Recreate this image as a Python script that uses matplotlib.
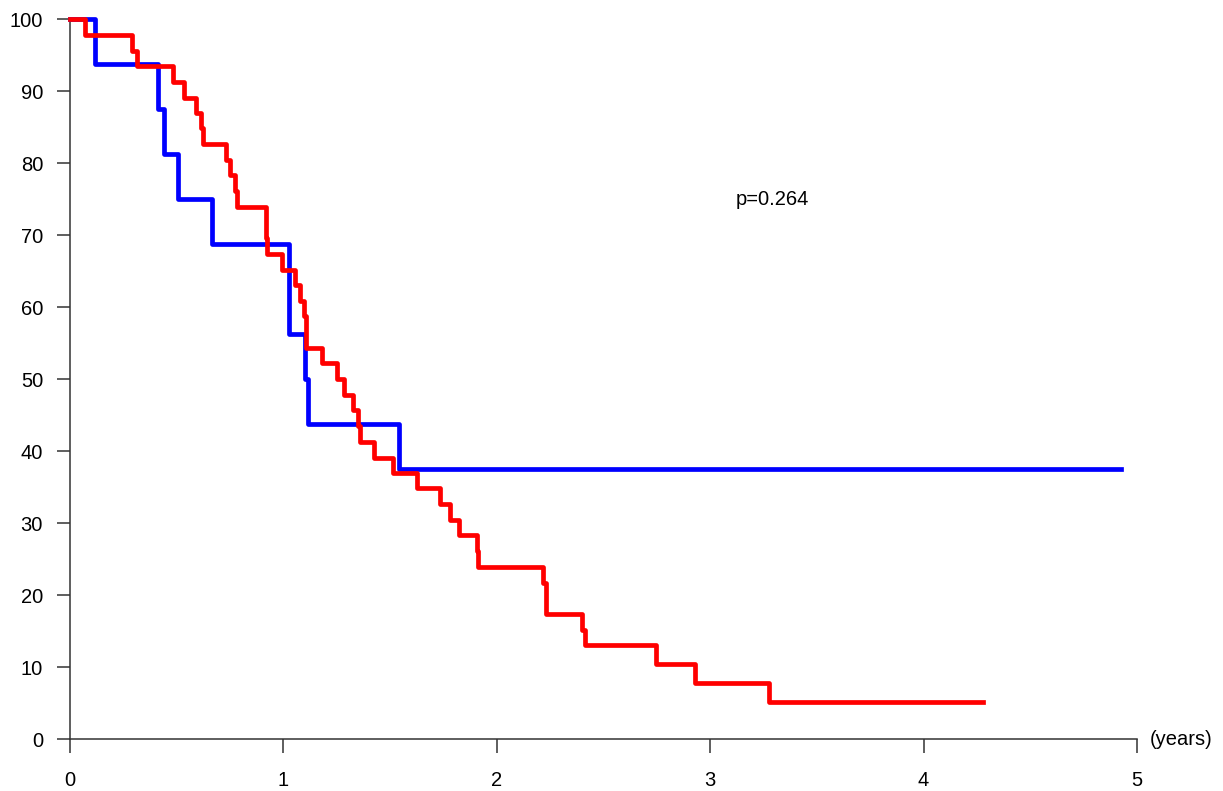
import matplotlib
matplotlib.use("Agg")
import matplotlib.pyplot as plt

plt.rcParams['font.family'] = ['Liberation Sans', 'DejaVu Sans']

# Kaplan-Meier steps: event times (years) and survival (%) after each step
blue_t = [0.0, 0.116, 0.414, 0.44, 0.507, 0.667, 1.026, 1.101, 1.117, 1.542]
blue_s = [100.0, 93.75, 87.5, 81.25, 75.0, 68.75, 56.25, 50.0, 43.75, 37.5]
blue_end = 4.925

red_t = [0.0, 0.07, 0.289, 0.316, 0.484, 0.534, 0.589, 0.612, 0.623, 0.73,
         0.748, 0.772, 0.784, 0.917, 0.923, 0.992, 1.054, 1.076, 1.098, 1.104,
         1.179, 1.253, 1.284, 1.326, 1.351, 1.36, 1.425, 1.514, 1.628, 1.732,
         1.779, 1.823, 1.906, 1.913, 2.218, 2.229, 2.40, 2.412, 2.745, 2.927,
         3.276]
red_s = [100.0, 97.8, 95.6, 93.5, 91.3, 89.1, 87.0, 84.8, 82.6, 80.4,
         78.3, 76.1, 73.9, 69.6, 67.4, 65.2, 63.0, 60.9, 58.7, 54.3,
         52.2, 50.0, 47.8, 45.7, 43.5, 41.3, 39.1, 37.0, 34.8, 32.6,
         30.4, 28.3, 26.1, 23.9, 21.7, 17.4, 15.2, 13.0, 10.4, 7.8,
         5.2]
red_end = 4.278

p_text = "p=0.264"

fig = plt.figure(figsize=(12.23, 7.91), dpi=100)
ax = fig.add_axes([0.0572, 0.0657, 0.8724, 0.9102])

ax.step(blue_t + [blue_end], blue_s + [blue_s[-1]], where='post',
        color='#0000ff', lw=3.4, clip_on=False, zorder=3)
ax.step(red_t + [red_end], red_s + [red_s[-1]], where='post',
        color='#ff0000', lw=3.4, clip_on=False, zorder=4)

ax.set_xlim(0, 5)
ax.set_ylim(0, 100)
ax.set_xticks(range(0, 6))
ax.set_yticks(range(0, 101, 10))

for s in ['top', 'right']:
    ax.spines[s].set_visible(False)
for s in ['left', 'bottom']:
    ax.spines[s].set_color('#333333')
    ax.spines[s].set_linewidth(1.1)

ax.tick_params(axis='y', direction='out', length=9.4, width=1.1, color='#333333',
               pad=10, labelsize=14.5)
ax.tick_params(axis='x', direction='out', length=10, width=1.1, color='#333333',
               pad=13, labelsize=14.5)

ax.text(3.12, 75, p_text, fontsize=14.5, ha='left', va='center')
ax.text(1.012, 0.0, "(years)", transform=ax.transAxes, fontsize=14.5,
        ha='left', va='center')

fig.savefig("out.png", dpi=100)
